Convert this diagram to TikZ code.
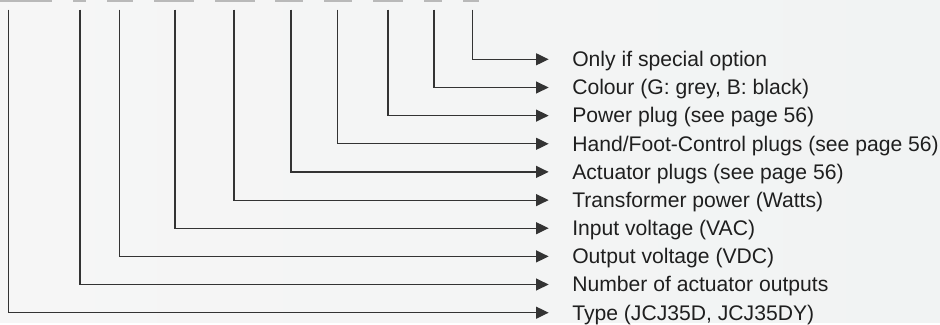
\documentclass[tikz,border=0pt]{standalone}
\usepackage{fontspec}
\setmainfont{Liberation Sans}
\usepackage{xcolor}
\usetikzlibrary{arrows.meta}

\definecolor{bgleft}{HTML}{F6F6F6}
\definecolor{bgright}{HTML}{F1F3F3}

\begin{document}
\begin{tikzpicture}[
    x=0.75pt, y=-0.75pt,
    item/.style={anchor=west, inner sep=0pt, text height=14pt, text depth=3pt, font=\fontsize{15.85}{18}\selectfont, text=black!88},
    lead/.style={-{Triangle[length=9.5pt,width=9pt]}, line width=0.9pt, black!80, shorten >=17.5pt},
    stub/.style={fill=gray!55, draw=none}
]

% background
\fill[left color=bgleft, right color=bgright] (0,0) rectangle (940,322);

% cut-off underlines at the top
\foreach \a/\b in {0/52, 73/86, 107/133, 154/194, 215/255, 275/303, 324/352, 373/403, 424/442, 463/479} {
    \fill[stub] (\a,0) rectangle (\b,1.5);
}

% code positions and their meaning
\foreach \x/\y/\txt [count=\i] in {
    472.3/59.3/Only if special option,
    434/87.5/{Colour (G: grey, B: black)},
    388/115.6/Power plug (see page 56),
    337.7/143.8/{Hand/Foot-Control plugs (see page 56)},
    291/171.9/Actuator plugs (see page 56),
    234/200.1/Transformer power (Watts),
    175/228.2/Input voltage (VAC),
    119.5/256.4/Output voltage (VDC),
    80/284.5/Number of actuator outputs,
    8.3/312.7/{Type (JCJ35D, JCJ35DY)}} {
    \coordinate (top\i) at (\x, 9.5);
    \node[item] (lab\i) at (572, \y) {\txt};
    \draw[lead] (top\i) |- (lab\i.west);
}

\end{tikzpicture}
\end{document}
